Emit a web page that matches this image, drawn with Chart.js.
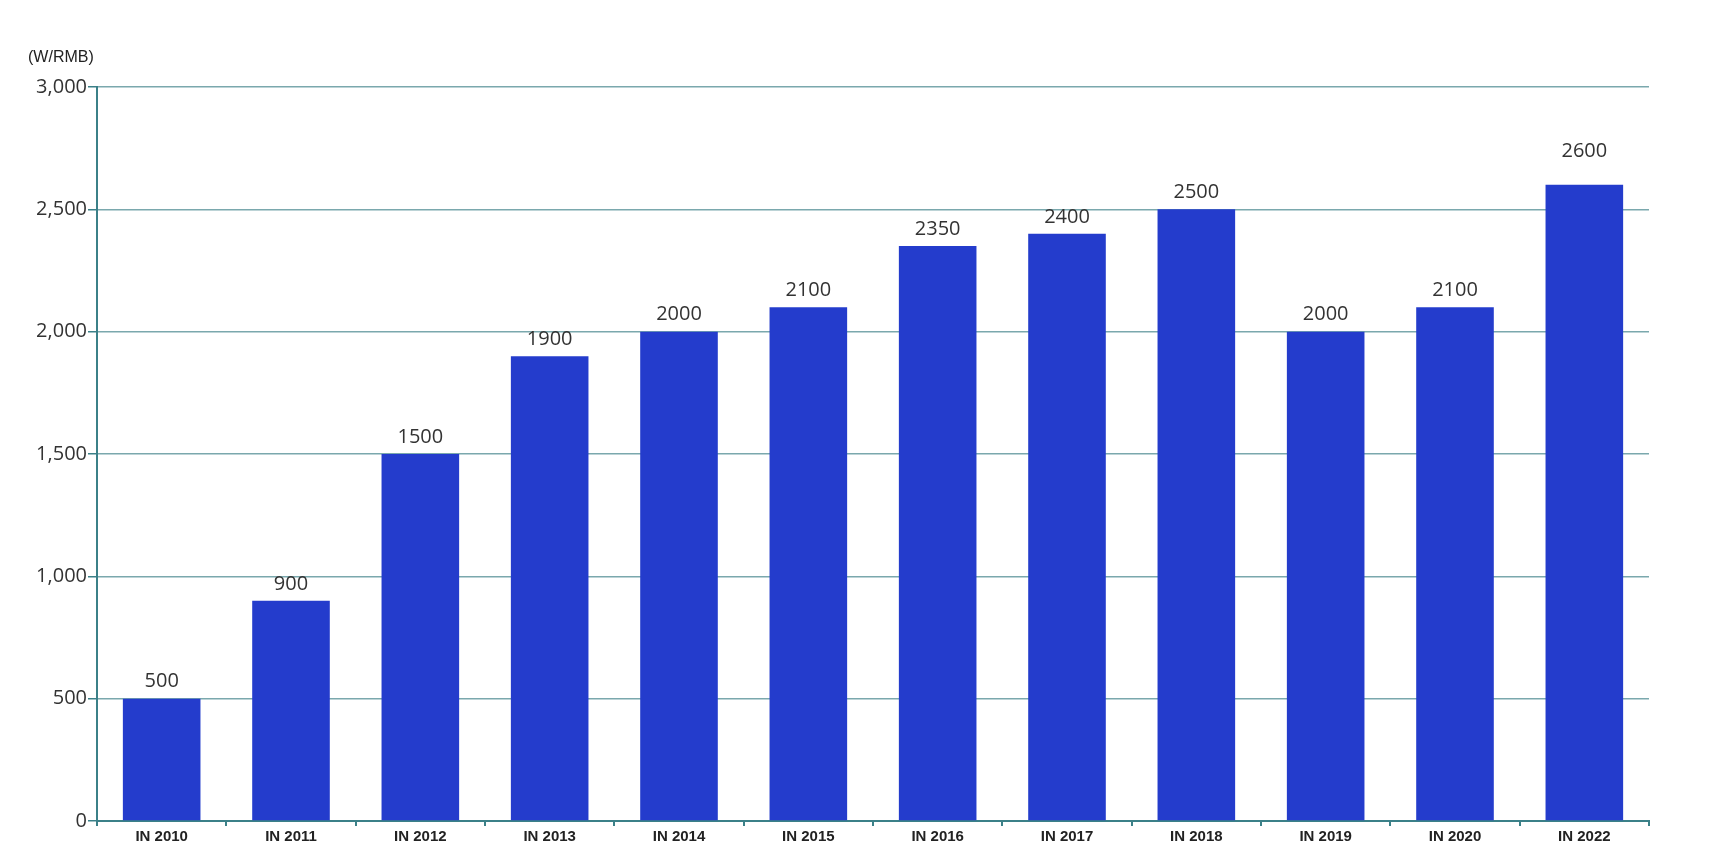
<!DOCTYPE html>
<html>
<head>
<meta charset="utf-8">
<script src="https://cdn.jsdelivr.net/npm/chart.js@4/dist/chart.umd.min.js"></script>
<style>
  html, body { margin: 0; padding: 0; background: #fff; }
  #wrap { width: 1736px; height: 868px; position: relative; }
</style>
</head>
<body>
<div id="wrap"><canvas id="c"></canvas></div>
<script>
// du lieu doc tu hinh
const years = ['IN 2010', 'IN 2011', 'IN 2012', 'IN 2013', 'IN 2014', 'IN 2015', 'IN 2016', 'IN 2017', 'IN 2018', 'IN 2019', 'IN 2020', 'IN 2022'];
const values = [500, 900, 1500, 1900, 2000, 2100, 2350, 2400, 2500, 2000, 2100, 2600];
const yTicks = [0, 500, 1000, 1500, 2000, 2500, 3000];
const unitLabel = '(W/RMB)';

const BAR = '#243ccc';
const AXIS = '#3b8088';
const GRID = '#7aa8ad';

// ve so tren dau cot + don vi goc tren trai
const labelsPlugin = {
  id: 'barLabels',
  afterDatasetsDraw(chart) {
    const ctx = chart.ctx;
    const meta = chart.getDatasetMeta(0);
    const maxVal = Math.max(...values);
    ctx.save();
    ctx.font = '20px "Open Sans"';
    ctx.fillStyle = '#333';
    ctx.textAlign = 'center';
    ctx.textBaseline = 'middle';
    meta.data.forEach((bar, i) => {
      // cot cao nhat thi so bi day len cao hon
      const gap = values[i] === maxVal ? 34 : 17;
      ctx.fillText(String(values[i]), bar.x, bar.y - gap);
    });
    ctx.font = '16px "Liberation Sans"';
    ctx.textAlign = 'left';
    ctx.fillStyle = '#222';
    ctx.fillText(unitLabel, chart.chartArea.left - 69, chart.chartArea.top - 29);
    ctx.restore();
  }
};

new Chart(document.getElementById('c'), {
  type: 'bar',
  data: {
    labels: years,
    datasets: [{
      data: values,
      backgroundColor: BAR,
      borderWidth: 0,
      barPercentage: 0.6,
      categoryPercentage: 1
    }]
  },
  options: {
    responsive: true,
    maintainAspectRatio: false,
    animation: false,
    layout: { padding: { top: 87, right: 87, left: 0, bottom: 0 } },
    plugins: { legend: { display: false }, tooltip: { enabled: false } },
    scales: {
      x: {
        offset: true,
        grid: { display: true, drawOnChartArea: false, drawTicks: true, tickLength: 5, color: AXIS, lineWidth: 2, offset: true },
        border: { display: true, color: AXIS, width: 2 },
        ticks: { color: '#222', font: { family: '"Liberation Sans"', size: 15, weight: 'bold' }, padding: 2, maxRotation: 0 },
        afterFit(s) { s.height = 47; }
      },
      y: {
        min: 0,
        max: 3000,
        afterBuildTicks(s) { s.ticks = yTicks.map(v => ({ value: v })); },
        grid: { color: GRID, lineWidth: 1.5, drawTicks: true, tickLength: 9, tickColor: AXIS },
        border: { display: true, color: AXIS, width: 2 },
        ticks: {
          color: '#333',
          font: { family: '"Open Sans"', size: 20 },
          padding: 1,
          callback: v => v.toLocaleString('en-US')
        },
        afterFit(s) { s.width = 97; }
      }
    }
  },
  plugins: [labelsPlugin]
});
</script>
</body>
</html>
